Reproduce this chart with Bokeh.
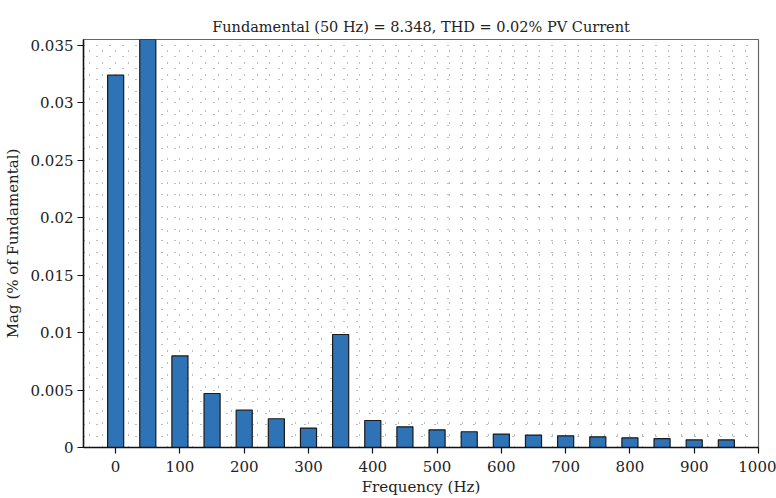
from bokeh.plotting import figure
from bokeh.embed import file_html
from bokeh.resources import INLINE
from bokeh.models import FixedTicker, Range1d, CustomJSTickFormatter, ColumnDataSource

freqs = [0, 50, 100, 150, 200, 250, 300, 350, 400, 450, 500, 550, 600, 650, 700, 750, 800, 850, 900, 950]
mags = [0.0324, 100.0, 0.00797, 0.0047, 0.00325, 0.0025, 0.00169, 0.00983, 0.00235, 0.0018,
        0.00154, 0.00137, 0.00117, 0.00108, 0.00102, 0.00093, 0.00084, 0.00078, 0.00067, 0.00067]
x_ticks = [0, 100, 200, 300, 400, 500, 600, 700, 800, 900, 1000]
y_ticks = [0, 0.005, 0.01, 0.015, 0.02, 0.025, 0.03, 0.035]
title_text = "Fundamental (50 Hz) = 8.348, THD = 0.02% PV Current"

FONT = "DejaVu Serif"

p = figure(width=776, height=498, output_backend="svg", toolbar_location=None,
           x_range=Range1d(-50, 1000), y_range=Range1d(0, 0.0355),
           min_border_left=82, min_border_right=18, min_border_top=39, min_border_bottom=50,
           title=title_text)

src = ColumnDataSource(dict(x=freqs, top=mags))
p.vbar(x="x", top="top", width=25, bottom=0, source=src,
       fill_color="#2e73b6", line_color="#1a1a1a", line_width=1.2)

minor_x = [v for v in range(-40, 1000, 20) if v % 100 != 0]
minor_y = [round(i * 0.001, 4) for i in range(1, 36) if i % 5 != 0]
p.xaxis.ticker = FixedTicker(ticks=x_ticks, minor_ticks=minor_x)
p.yaxis.ticker = FixedTicker(ticks=y_ticks, minor_ticks=minor_y)
p.yaxis.formatter = CustomJSTickFormatter(code="return tick.toFixed(3).replace(/\\.?0+$/, '');")

for g in (p.xgrid, p.ygrid):
    g.grid_line_color = "#333333"
    g.grid_line_alpha = 0.65
    g.grid_line_width = 1
    g.minor_grid_line_color = "#333333"
    g.minor_grid_line_alpha = 0.65
    g.minor_grid_line_width = 1
p.xgrid.grid_line_dash = "1 11"
p.xgrid.minor_grid_line_dash = "1 11"
p.ygrid.grid_line_dash = "1 12"
p.ygrid.minor_grid_line_dash = "1 12"

for ax in (p.xaxis, p.yaxis):
    ax.axis_line_color = "#111111"
    ax.axis_line_width = 1.5
    ax.major_tick_line_color = "#111111"
    ax.major_tick_line_width = 1.2
    ax.major_tick_out = 6
    ax.major_tick_in = 0
    ax.minor_tick_line_color = None
    ax.major_label_text_font = FONT
    ax.major_label_text_font_size = "15px"
    ax.major_label_text_color = "#222222"
    ax.axis_label_text_font = FONT
    ax.axis_label_text_font_size = "15px"
    ax.axis_label_text_font_style = "normal"
    ax.axis_label_text_color = "#222222"

p.xaxis.axis_label = "Frequency (Hz)"
p.yaxis.axis_label = "Mag (% of Fundamental)"
p.xaxis.major_label_standoff = 7
p.xaxis.axis_label_standoff = 3
p.yaxis.major_label_standoff = 4
p.yaxis.axis_label_standoff = 6

p.title.text_font = FONT
p.title.text_font_size = "14.5px"
p.title.text_font_style = "normal"
p.title.text_color = "#222222"
p.title.align = "center"

p.outline_line_color = "#666666"
p.outline_line_width = 1.2
p.background_fill_color = "white"
p.border_fill_color = "white"

open("out.html", "w").write(file_html(p, INLINE))
